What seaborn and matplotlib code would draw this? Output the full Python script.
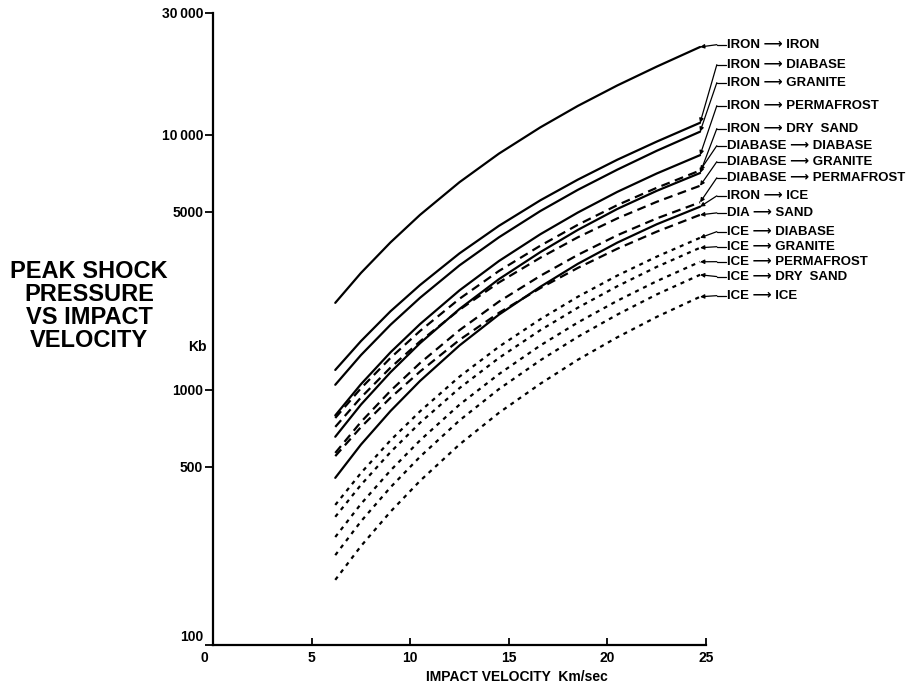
import matplotlib
matplotlib.use("Agg")
import matplotlib.pyplot as plt
import matplotlib.transforms as mtransforms
from matplotlib.ticker import NullLocator
import pandas as pd
import seaborn as sns

# impact velocity (km/sec) at which the curves were read
velocity = [6.2, 7.5, 9, 10.5, 12.5, 14.5, 16.6, 18.5, 20.5, 22.5, 24.7]

# peak shock pressure (kb), projectile -> target
iron_iron = [2193, 2871, 3784, 4853, 6516, 8433, 10690, 12970, 15600, 18490, 22080]
iron_diabase = [1197, 1552, 2032, 2576, 3428, 4395, 5534, 6668, 7980, 9397, 11140]
iron_granite = [1047, 1368, 1799, 2296, 3076, 3963, 5023, 6081, 7295, 8650, 10280]
iron_permafrost = [794, 1052, 1403, 1811, 2455, 3199, 4074, 4955, 5970, 7047, 8318]
iron_drysand = [655, 875, 1172, 1524, 2075, 2716, 3467, 4236, 5117, 6026, 7079]
diabase_diabase = [776, 1014, 1334, 1702, 2275, 2924, 3673, 4436, 5297, 6194, 7244]
diabase_granite = [716, 933, 1222, 1549, 2061, 2636, 3296, 3963, 4699, 5458, 6310]
diabase_permafrost = [566, 748, 991, 1274, 1714, 2218, 2799, 3381, 4036, 4699, 5433]
iron_ice = [452, 610, 826, 1084, 1493, 1972, 2535, 3119, 3776, 4457, 5224]
dia_sand = [550, 714, 931, 1180, 1570, 2004, 2506, 3006, 3573, 4169, 4853]
ice_diabase = [354, 472, 634, 824, 1127, 1476, 1892, 2317, 2805, 3327, 3945]
ice_granite = [318, 424, 570, 743, 1016, 1334, 1714, 2099, 2547, 3034, 3606]
ice_permafrost = [265, 357, 483, 634, 875, 1153, 1493, 1837, 2234, 2667, 3177]
ice_drysand = [225, 305, 415, 547, 759, 1007, 1306, 1614, 1972, 2366, 2825]
ice_ice = [180, 244, 333, 440, 611, 813, 1057, 1312, 1607, 1932, 2317]

ARROW = "\u27f6"
labels = ["IRON " + ARROW + " IRON", "IRON " + ARROW + " DIABASE", "IRON " + ARROW + " GRANITE",
          "IRON " + ARROW + " PERMAFROST", "IRON " + ARROW + " DRY  SAND",
          "DIABASE " + ARROW + " DIABASE", "DIABASE " + ARROW + " GRANITE",
          "DIABASE " + ARROW + " PERMAFROST", "IRON " + ARROW + " ICE",
          "DIA " + ARROW + " SAND", "ICE " + ARROW + " DIABASE", "ICE " + ARROW + " GRANITE",
          "ICE " + ARROW + " PERMAFROST", "ICE " + ARROW + " DRY  SAND", "ICE " + ARROW + " ICE"]
series = [iron_iron, iron_diabase, iron_granite, iron_permafrost, iron_drysand,
          diabase_diabase, diabase_granite, diabase_permafrost, iron_ice, dia_sand,
          ice_diabase, ice_granite, ice_permafrost, ice_drysand, ice_ice]
projectile = ["iron"] * 5 + ["diabase"] * 3 + ["iron"] + ["diabase"] + ["ice"] * 5

# where the right-hand labels sit (kb), top to bottom
label_y = [22540, 18820, 16000, 13000, 10570, 9060, 7840, 6780,
           5760, 4940, 4170, 3640, 3180, 2780, 2340]

rows = []
for name, vals, kind in zip(labels, series, projectile):
    for v, p in zip(velocity, vals):
        rows.append({"pair": name, "kind": kind, "velocity": v, "pressure": p})
df = pd.DataFrame(rows)

sns.set_style("ticks")
plt.rcParams["font.family"] = ["Liberation Sans", "DejaVu Sans"]
plt.rcParams["font.weight"] = "bold"
for key in ["text.color", "axes.labelcolor", "xtick.color", "ytick.color", "axes.edgecolor"]:
    plt.rcParams[key] = "black"

fig = plt.figure(figsize=(9.1, 6.88), dpi=100)
ax = fig.add_axes([213 / 910, 43 / 688, 493 / 910, 632 / 688])

sns.lineplot(data=df, x="velocity", y="pressure", units="pair", estimator=None,
             style="kind", dashes={"iron": "", "diabase": (4, 2.5), "ice": (1.8, 2.2)},
             color="black", linewidth=1.6, legend=False, sort=False, ax=ax)

ax.set_yscale("log")
ax.set_xlim(0, 25)
ax.set_ylim(100, 30000)
ax.set_xticks([0, 5, 10, 15, 20, 25])
ax.set_xticklabels(["0", "5", "10", "15", "20", "25"])
ax.set_yticks([100, 500, 1000, 5000, 10000, 30000])
ax.set_yticklabels(["100", "500", "1000", "5000", "10\u2009000", "30\u2009000"])
ax.yaxis.set_minor_locator(NullLocator())
ax.tick_params(axis="x", direction="in", length=5, width=1.3, labelsize=10, pad=4)
ax.tick_params(axis="y", direction="out", length=6, width=1.3, labelsize=10, pad=1)
for s in ["top", "right"]:
    ax.spines[s].set_visible(False)
for s in ["left", "bottom"]:
    ax.spines[s].set_linewidth(1.6)
ax.set_ylabel("")

# nudge the "0" and "100" labels like the original
ax.get_xticklabels()[0].set_transform(ax.get_xticklabels()[0].get_transform()
                                      + mtransforms.ScaledTranslation(-6 / 72, 0, fig.dpi_scale_trans))
ax.get_yticklabels()[0].set_transform(ax.get_yticklabels()[0].get_transform()
                                      + mtransforms.ScaledTranslation(0, 7 / 72, fig.dpi_scale_trans))

ax.set_xlabel("IMPACT VELOCITY  Km/sec", fontsize=10, fontweight="bold", va="center")
ax.xaxis.set_label_coords(0.617, -0.0506)

# leader lines from each curve end to its label
x_end = velocity[-1]
for name, vals, ly in zip(labels, series, label_y):
    ax.annotate("", xy=(x_end, vals[-1]), xytext=(25.55, ly),
                arrowprops=dict(arrowstyle="-|>", color="black", lw=0.9,
                                mutation_scale=6, shrinkA=0, shrinkB=0))
    ax.plot([25.55, 26.0], [ly, ly], color="black", lw=0.9, clip_on=False)
    ax.text(26.05, ly, name, fontsize=9.5, fontweight="bold", ha="left", va="center",
            clip_on=False)

fig.text(89 / 910, 1 - 306 / 688, "PEAK SHOCK\nPRESSURE\nVS IMPACT\nVELOCITY",
         fontsize=17, fontweight="bold", ha="center", va="center",
         multialignment="center", linespacing=1.0)
fig.text(197 / 910, 1 - 347 / 688, "Kb", fontsize=10, fontweight="bold",
         ha="center", va="center")

fig.savefig("out.png", dpi=100)
